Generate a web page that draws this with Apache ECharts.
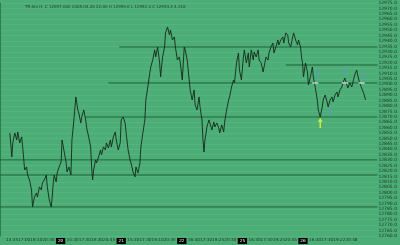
<!DOCTYPE html>
<html><head><meta charset="utf-8">
<script src="https://cdn.jsdelivr.net/npm/echarts@6/dist/echarts.min.js"></script>
<style>html,body{margin:0;padding:0;background:#4dad76}#c{width:400px;height:245px}</style>
</head><body><div id="c"></div>
<script>
const titleText = 'TR-Am H, C 12957.000 2005.04.26 22:00 H 12959.0 L 12952.0 C 12953.4 4.318';
const timeLabels = ['', '14:35','17:00','18:10','20:30','20','14:30','17:30','19:30','20:45','21','15:30','17:30','19:10','20:45','22','16:30','17:30','19:25','20:30','25','16:30','17:30','19:25','20:45','26','16:30','17:30','19:22','20:48'];
const dayIdx = [5,10,15,20,25];
const priceX = [10,12,13,15,17,18,20,22,23,24,25,27,28,30,32,33,35,37,38,40,42,43,45,47,48,50,52,53,54,55,57,58,60,62,63,65,67,68,70,72,73,75,77,79,80,82,83,85,87,88,90,92,93,94,95,97,98,100,102,103,105,107,108,110,112,113,115,117,118,120,122,123,125,127,128,130,132,133,135,137,138,140,142,143,145,147,148,150,152,153,155,157,158,160,162,163,165,167,168,170,172,173,175,177,178,180,182,183,185,187,188,190,192,193,195,197,198,200,202,203,205,206,207,208,210,212,213,215,217,218,220,222,223,225,227,228,230,232,233,235,237,238,240,242,243,245,247,248,250,252,253,255,257,258,260,262,263,265,267,268,270,272,273,275,277,278,280,282,283,285,287,288,290,292,293,295,297,298,300,302,303,305,306,307,308,310,312,313,315,317,318,320,322,323,325,327,328,330,332,333,335,337,338,340,342,343,345,347,348,350,352,353,355,357,360,362,363,365,367,369,371];
const priceY = [12855.1,12832.9,12845.9,12855.1,12848.6,12856.0,12845.9,12851.4,12842.2,12832.0,12820.9,12823.7,12816.3,12811.7,12802.5,12786.8,12796.0,12799.7,12796.0,12805.3,12802.5,12808.9,12811.7,12816.3,12805.3,12793.3,12786.8,12796.0,12808.9,12816.3,12809.9,12818.2,12823.7,12828.3,12848.6,12846.8,12828.3,12819.1,12823.7,12816.3,12848.6,12867.1,12888.3,12876.3,12873.5,12864.3,12869.8,12876.3,12867.1,12859.7,12851.4,12842.2,12823.7,12811.7,12820.9,12830.2,12827.4,12832.9,12839.4,12834.8,12842.2,12839.4,12845.9,12841.2,12848.6,12842.2,12851.4,12856.0,12848.6,12839.4,12845.9,12867.1,12869.8,12864.3,12855.1,12839.4,12830.2,12827.4,12819.1,12814.5,12823.7,12818.2,12827.4,12842.2,12855.1,12867.1,12885.5,12897.5,12910.4,12916.0,12922.4,12931.7,12925.2,12934.4,12919.7,12906.8,12925.2,12934.4,12947.4,12952.9,12945.5,12950.1,12940.9,12943.7,12934.4,12922.4,12925.2,12919.7,12904.0,12934.4,12931.7,12922.4,12904.0,12894.8,12885.5,12894.8,12880.9,12876.3,12888.3,12879.1,12867.1,12848.6,12837.5,12848.6,12860.6,12867.1,12864.3,12857.8,12865.2,12860.6,12864.3,12859.7,12855.1,12862.5,12856.0,12865.2,12876.3,12885.5,12888.3,12897.5,12904.0,12901.2,12919.7,12928.9,12913.2,12904.0,12925.2,12931.7,12919.7,12928.9,12916.0,12931.7,12922.4,12929.8,12925.2,12931.7,12922.4,12919.7,12911.4,12916.0,12925.2,12922.4,12928.9,12934.4,12938.1,12928.9,12934.4,12940.9,12936.3,12940.9,12943.7,12938.1,12947.4,12945.5,12938.1,12934.4,12943.7,12947.4,12940.9,12936.3,12940.9,12934.4,12925.2,12919.7,12906.8,12919.7,12911.4,12899.4,12906.8,12916.0,12906.8,12896.6,12885.5,12876.3,12869.8,12879.1,12885.5,12890.1,12883.7,12879.1,12885.5,12888.3,12883.7,12890.1,12892.9,12888.3,12894.8,12897.5,12901.2,12905.8,12899.4,12896.6,12901.2,12897.5,12908.6,12913.2,12908.6,12901.2,12901.2,12892.0,12885.5];
const levelValues = [12934.4, 12917.8, 12901.2, 12869.8, 12830.2, 12816.3, 12786.8];
const levelStartX = [121, 290, 110, 87, 0, 0, 0];
const levelEndX = 383;
const dashX = [320, 350, 367];
const dashY = [12901.2, 12901.2, 12901.2];
const blueDownX = [323, 350, 369];
const blueDownY = [12910.4, 12913.2, 12908.6];
const blueUpX = [335];
const blueUpY = [12874.5];
const yellowUpX = [325];
const yellowUpY = [12864.3];
const lastPrice = 12885.5;

const zip = (xs, ys) => xs.map((x, i) => [x, ys[i]]);
const arrow = 'path://M5,0 L10,6 L6.5,6 L6.5,16 L3.5,16 L3.5,6 L0,6 Z';

const series = [];
levelValues.forEach((v, i) => {
  series.push({type:'line', data:[[levelStartX[i], v],[levelEndX, v]], symbol:'none', silent:true,
    lineStyle:{color:'#1d6238', width:1}, animation:false, z:2});
});
series.push({type:'line', data: zip(priceX, priceY), symbol:'none', lineStyle:{color:'#14291b', width:0.9}, animation:false, z:3,
  markLine:{symbol:'none', silent:true, animation:false, data:[{yAxis:lastPrice}], lineStyle:{opacity:0},
    label:{position:'end', formatter: p => p.value.toFixed(1), backgroundColor:'#000', color:'#cfe', fontSize:4.5, fontFamily:'DejaVu Sans', padding:[1,1], distance:1}}});
series.push({type:'scatter', data: zip(dashX, dashY), symbol:'rect', symbolSize:[6,1.5], itemStyle:{color:'#f2f2f2'}, animation:false, z:5});
series.push({type:'scatter', data: zip(blueDownX, blueDownY), symbol:arrow, symbolSize:[3,9], symbolRotate:190, itemStyle:{color:'#5f93d8'}, animation:false, z:5});
series.push({type:'scatter', data: zip(blueUpX, blueUpY), symbol:arrow, symbolSize:[3,9], itemStyle:{color:'#5f93d8'}, animation:false, z:5});
series.push({type:'scatter', data: zip(yellowUpX, yellowUpY), symbol:arrow, symbolSize:[5,10], itemStyle:{color:'#e6ff2a'}, animation:false, z:6});

const chart = echarts.init(document.getElementById('c'), null, {renderer:'canvas'});
chart.setOption({
  backgroundColor:'#4dad76',
  animation:false,
  title:{text:titleText, left:20, top:0, textStyle:{fontSize:4, fontWeight:'normal', color:'#1c3f2a', fontFamily:'DejaVu Sans'}},
  grid:{left:0, right:17, top:3, bottom:9},
  xAxis:{type:'value', min:0, max:383, interval:12.3,
    axisLine:{show:false}, axisTick:{show:false}, splitLine:{show:false},
    axisLabel:{fontSize:4.2, color:'#163524', margin:2, fontFamily:'DejaVu Sans', showMinLabel:false, showMaxLabel:false, hideOverlap:false,
      formatter: v => { const i = Math.round(v/12.3); const t = timeLabels[i]; if (!t) return ''; return dayIdx.includes(i) ? '{d|' + t + '}' : t; },
      rich:{d:{backgroundColor:'#000', color:'#fff', fontSize:4.2, padding:[1,2]}}}},
  yAxis:{type:'value', position:'right', min:12760, max:12975, interval:5,
    axisLine:{show:true, lineStyle:{color:'#2e7e50'}}, axisTick:{show:false},
    splitLine:{show:true, lineStyle:{color:'#56b37f', width:1}},
    axisLabel:{fontSize:4.5, color:'#163524', margin:1, fontFamily:'DejaVu Sans', formatter: v => v.toFixed(1)}},
  series: series
});
</script></body></html>
